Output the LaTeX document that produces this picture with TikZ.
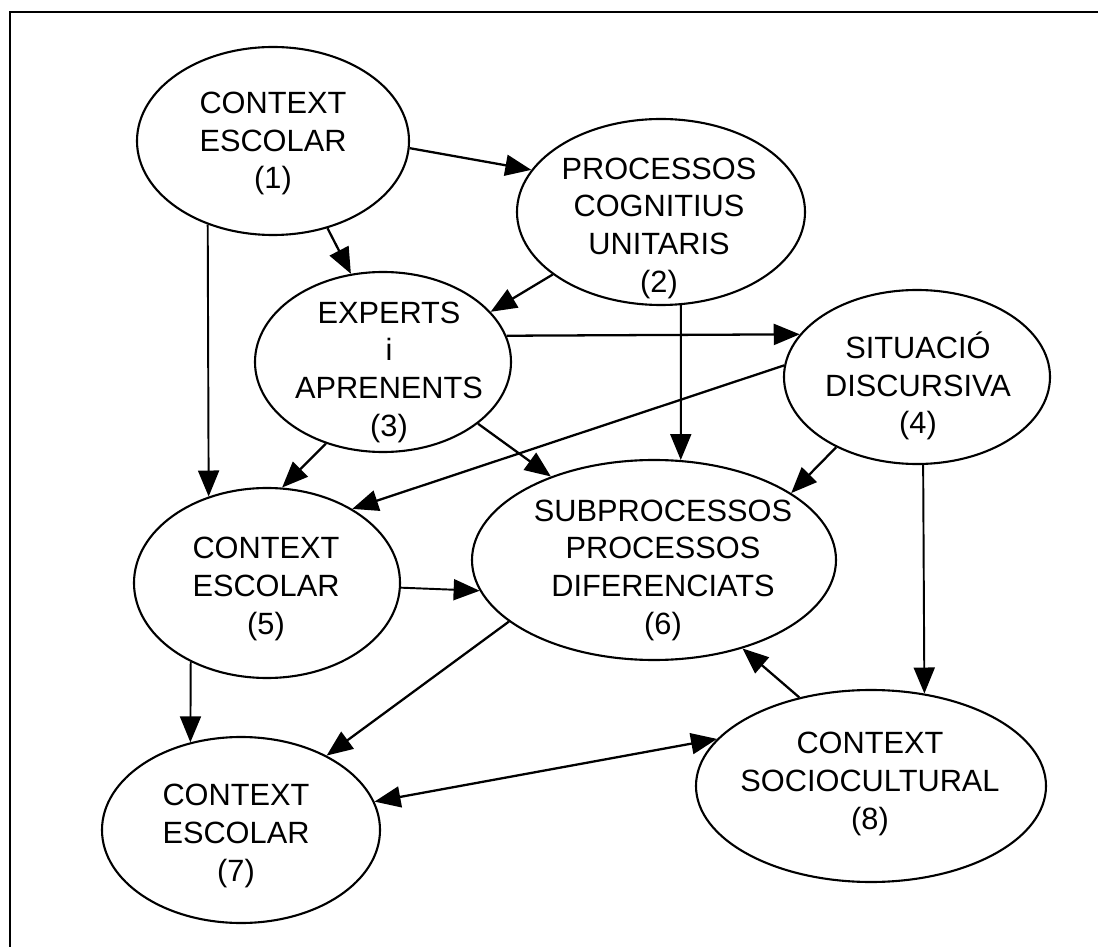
\documentclass[tikz,border=0pt]{standalone}
\usepackage{fontspec}
\setmainfont{Liberation Sans}
\usetikzlibrary{arrows.meta,shapes.geometric}

\begin{document}
\begin{tikzpicture}[x=0.2mm, y=-0.2mm]
    \tikzset{Blob/.style={shape=ellipse, draw, line width=1.2pt, inner sep=0pt}}
    \tikzset{Lbl/.style={align=center, inner sep=0pt, font=\fontsize{17.5}{21.45}\selectfont}}
    \tikzset{Arr/.style={line width=1.3pt, -{Triangle[length=5.2mm, width=4.2mm]}}}
    \tikzset{ThinArr/.style={Arr, line width=1.1pt}}

    \useasboundingbox (0,0) rectangle (1098,947);

    % frame
    \draw[line width=1.1pt] (1098,12) -- (10,12) -- (10,947);

    % nodes
    \node[Blob, minimum width=5.44cm, minimum height=3.76cm] (e1) at (273,141) {};
    \node[Blob, minimum width=5.76cm, minimum height=3.72cm] (e2) at (661,212) {};
    \node[Blob, minimum width=5.12cm, minimum height=3.60cm] (e3) at (383,362) {};
    \node[Blob, minimum width=5.32cm, minimum height=3.48cm] (e4) at (917,377) {};
    \node[Blob, minimum width=5.32cm, minimum height=3.80cm] (e5) at (267,583) {};
    \node[Blob, minimum width=7.28cm, minimum height=4.00cm] (e6) at (654,560) {};
    \node[Blob, minimum width=5.56cm, minimum height=3.72cm] (e7) at (241,830) {};
    \node[Blob, minimum width=7.00cm, minimum height=3.84cm] (e8) at (871,786) {};

    % texts
    \node[Lbl] (t1) at (273,143.5) {CONTEXT\\ESCOLAR\\(1)};
    \node[Lbl] (t2) at (659,228) {PROCESSOS\\COGNITIUS\\UNITARIS\\(2)};
    \node[Lbl] (t3) at (389,372) {EXPERTS\\i\\APRENENTS\\(3)};
    \node[Lbl] (t4) at (918,386) {SITUACIÓ\\DISCURSIVA\\(4)};
    \node[Lbl] (t5) at (266,589) {CONTEXT\\ESCOLAR\\(5)};
    \node[Lbl] (t6) at (663,570) {SUBPROCESSOS\\PROCESSOS\\DIFERENCIATS\\(6)};
    \node[Lbl] (t7) at (236,836) {CONTEXT\\ESCOLAR\\(7)};
    \node[Lbl] (t8) at (870,784) {CONTEXT\\SOCIOCULTURAL\\(8)};

    % arrows
    \draw[Arr] (e1.-3.1) -- (e2.162.9);
    \draw[Arr] (e1.-58.6) -- (e3.110.2);
    \draw[ThinArr] (e1.232.4) -- (e5.124.3);
    \draw[Arr] (e2.210.3) -- (e3.25.3);
    \draw[ThinArr] (e2.-78.3) -- (e6.75.3);
    \draw[Arr] (e3.12.3) -- (e4.160.1);
    \draw[Arr] (e4.175) -- (e5.41);
    \draw[Arr] (e3.-125.5) -- (e5.81);
    \draw[Arr] (e3.-33.3) -- (e6.141.2);
    \draw[Arr] (e4.-139.5) -- (e6.26.9);
    \draw[ThinArr] (e4.-86) -- (e8.60.4);
    \draw[ThinArr] (e5.-2.6) -- (e6.190);
    \draw[Arr] (e6.203.2) -- (e7.41.4);
    \draw[ThinArr] (e5.-134.3) -- (e7.120);
    \draw[Arr] (e8.129.8) -- (e6.-45);
    \draw[Arr, {Triangle[length=5.2mm, width=4.2mm]}-{Triangle[length=5.2mm, width=4.2mm]}] (e7.12.9) -- (e8.163);
\end{tikzpicture}
\end{document}
